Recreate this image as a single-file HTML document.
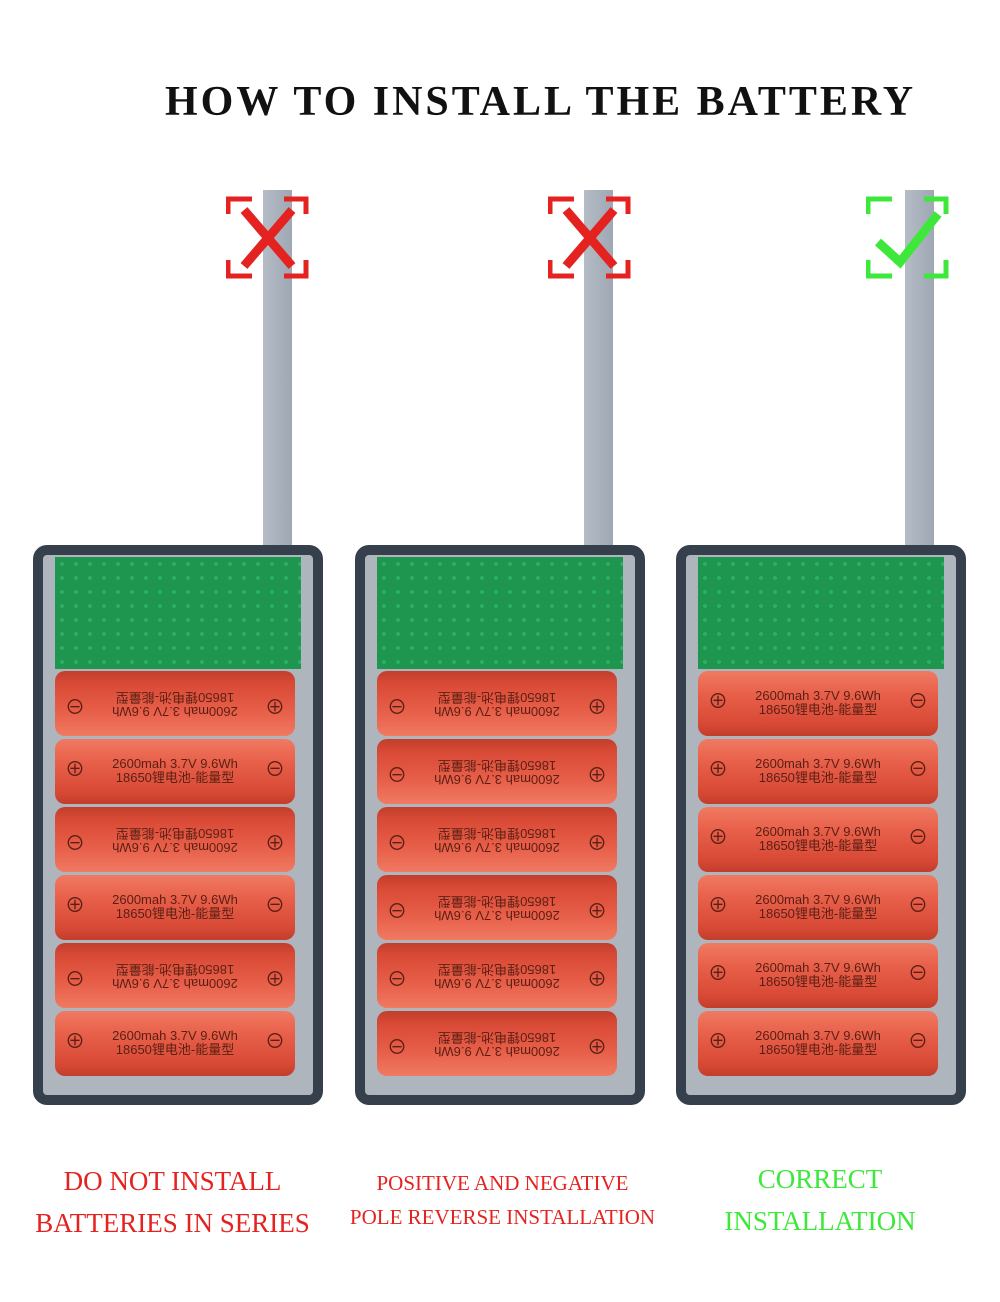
<!DOCTYPE html>
<html><head><meta charset="utf-8"><style>
body{margin:0;width:1000px;height:1302px;background:#fff;position:relative;overflow:hidden;font-family:"Liberation Sans","Noto Sans CJK SC",sans-serif}
.a{position:absolute}
.title{left:165px;width:740px;top:78px;text-align:center;font:bold 42px "Liberation Serif",serif;letter-spacing:3px;color:#111;white-space:nowrap}
.strip{width:29px;top:190px;height:360px;background:linear-gradient(90deg,#b5bcc6,#9ea7b3)}
.box{top:545px;width:290px;height:560px;box-sizing:border-box;border:10px solid #36404c;border-radius:14px;background:#aeb5bd}
.pcb{left:12px;top:2px;width:246px;height:112px;background:#1e9650;background-image:radial-gradient(#2ab060 20%,transparent 21%);background-size:14px 14px}
.bat{left:12px;width:240px;height:65px;border-radius:10px;background:linear-gradient(180deg,#f07a62 0%,#e8604a 35%,#d94a36 80%,#c23e2c 100%);color:#5a1f14;font-size:13px;text-align:center;line-height:14px}
.bat .t{position:absolute;left:0;right:0;top:18px}
.bat .p{position:absolute;top:20px;font-size:20px;line-height:22px}
.f{transform:rotate(180deg)}
.lab{font-family:"Liberation Serif",serif;text-align:center}
</style></head><body>
<div class="a title">HOW TO INSTALL THE BATTERY</div>

<div class="a strip" style="left:263px"></div>
<div class="a strip" style="left:584px"></div>
<div class="a strip" style="left:905px"></div>

<svg class="a" style="left:226px;top:196px" width="84" height="84"><g fill="none" stroke="#e42320" stroke-width="5"><path d="M2 18V3H26M58 3H80V18M2 64V80H26M58 80H80V64"/></g><path d="M18 14L66 70M66 14L18 70" stroke="#e42320" stroke-width="9"/></svg>
<svg class="a" style="left:548px;top:196px" width="84" height="84"><g fill="none" stroke="#e42320" stroke-width="5"><path d="M2 18V3H26M58 3H80V18M2 64V80H26M58 80H80V64"/></g><path d="M18 14L66 70M66 14L18 70" stroke="#e42320" stroke-width="9"/></svg>
<svg class="a" style="left:866px;top:196px" width="84" height="84"><g fill="none" stroke="#3ee83a" stroke-width="5"><path d="M2 18V3H26M58 3H80V18M2 64V80H26M58 80H80V64"/></g><path d="M12 46L34 66L72 18" fill="none" stroke="#3ee83a" stroke-width="9"/></svg>

<div class="a box" style="left:33px">
<div class="a pcb"></div>
<div class="a bat f" style="top:116px"><span class="p" style="left:10px">⊕</span><div class="t">2600mah 3.7V 9.6Wh<br>18650锂电池-能量型</div><span class="p" style="right:10px">⊖</span></div>
<div class="a bat" style="top:184px"><span class="p" style="left:10px">⊕</span><div class="t">2600mah 3.7V 9.6Wh<br>18650锂电池-能量型</div><span class="p" style="right:10px">⊖</span></div>
<div class="a bat f" style="top:252px"><span class="p" style="left:10px">⊕</span><div class="t">2600mah 3.7V 9.6Wh<br>18650锂电池-能量型</div><span class="p" style="right:10px">⊖</span></div>
<div class="a bat" style="top:320px"><span class="p" style="left:10px">⊕</span><div class="t">2600mah 3.7V 9.6Wh<br>18650锂电池-能量型</div><span class="p" style="right:10px">⊖</span></div>
<div class="a bat f" style="top:388px"><span class="p" style="left:10px">⊕</span><div class="t">2600mah 3.7V 9.6Wh<br>18650锂电池-能量型</div><span class="p" style="right:10px">⊖</span></div>
<div class="a bat" style="top:456px"><span class="p" style="left:10px">⊕</span><div class="t">2600mah 3.7V 9.6Wh<br>18650锂电池-能量型</div><span class="p" style="right:10px">⊖</span></div>
</div>

<div class="a box" style="left:355px">
<div class="a pcb"></div>
<div class="a bat f" style="top:116px"><span class="p" style="left:10px">⊕</span><div class="t">2600mah 3.7V 9.6Wh<br>18650锂电池-能量型</div><span class="p" style="right:10px">⊖</span></div>
<div class="a bat f" style="top:184px"><span class="p" style="left:10px">⊕</span><div class="t">2600mah 3.7V 9.6Wh<br>18650锂电池-能量型</div><span class="p" style="right:10px">⊖</span></div>
<div class="a bat f" style="top:252px"><span class="p" style="left:10px">⊕</span><div class="t">2600mah 3.7V 9.6Wh<br>18650锂电池-能量型</div><span class="p" style="right:10px">⊖</span></div>
<div class="a bat f" style="top:320px"><span class="p" style="left:10px">⊕</span><div class="t">2600mah 3.7V 9.6Wh<br>18650锂电池-能量型</div><span class="p" style="right:10px">⊖</span></div>
<div class="a bat f" style="top:388px"><span class="p" style="left:10px">⊕</span><div class="t">2600mah 3.7V 9.6Wh<br>18650锂电池-能量型</div><span class="p" style="right:10px">⊖</span></div>
<div class="a bat f" style="top:456px"><span class="p" style="left:10px">⊕</span><div class="t">2600mah 3.7V 9.6Wh<br>18650锂电池-能量型</div><span class="p" style="right:10px">⊖</span></div>
</div>

<div class="a box" style="left:676px">
<div class="a pcb"></div>
<div class="a bat" style="top:116px"><span class="p" style="left:10px">⊕</span><div class="t">2600mah 3.7V 9.6Wh<br>18650锂电池-能量型</div><span class="p" style="right:10px">⊖</span></div>
<div class="a bat" style="top:184px"><span class="p" style="left:10px">⊕</span><div class="t">2600mah 3.7V 9.6Wh<br>18650锂电池-能量型</div><span class="p" style="right:10px">⊖</span></div>
<div class="a bat" style="top:252px"><span class="p" style="left:10px">⊕</span><div class="t">2600mah 3.7V 9.6Wh<br>18650锂电池-能量型</div><span class="p" style="right:10px">⊖</span></div>
<div class="a bat" style="top:320px"><span class="p" style="left:10px">⊕</span><div class="t">2600mah 3.7V 9.6Wh<br>18650锂电池-能量型</div><span class="p" style="right:10px">⊖</span></div>
<div class="a bat" style="top:388px"><span class="p" style="left:10px">⊕</span><div class="t">2600mah 3.7V 9.6Wh<br>18650锂电池-能量型</div><span class="p" style="right:10px">⊖</span></div>
<div class="a bat" style="top:456px"><span class="p" style="left:10px">⊕</span><div class="t">2600mah 3.7V 9.6Wh<br>18650锂电池-能量型</div><span class="p" style="right:10px">⊖</span></div>
</div>

<div class="a lab" style="left:20px;width:305px;top:1160px;color:#e42320;font-size:27px;line-height:42px">DO NOT INSTALL<br>BATTERIES IN SERIES</div>
<div class="a lab" style="left:335px;width:335px;top:1166px;color:#e42320;font-size:21px;line-height:34px">POSITIVE AND NEGATIVE<br>POLE REVERSE INSTALLATION</div>
<div class="a lab" style="left:680px;width:280px;top:1158px;color:#3ee83a;font-size:27px;line-height:42px">CORRECT<br>INSTALLATION</div>
</body></html>
